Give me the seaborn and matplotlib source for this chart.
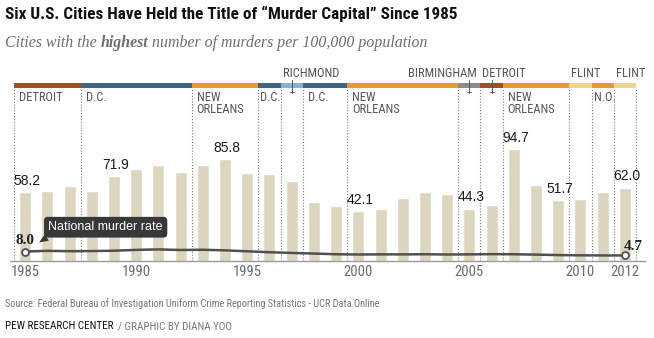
import matplotlib
matplotlib.use("Agg")
import matplotlib.pyplot as plt
from matplotlib import font_manager as fm
from matplotlib.patches import Rectangle
import seaborn as sns
import pandas as pd

# ---------------- data ----------------
years = list(range(1985, 2013))
capital_city = ["DETROIT"] * 3 + ["D.C."] * 5 + ["NEW ORLEANS"] * 3 + ["D.C.", "RICHMOND"] + \
    ["D.C."] * 2 + ["NEW ORLEANS"] * 5 + ["BIRMINGHAM", "DETROIT"] + ["NEW ORLEANS"] * 3 + \
    ["FLINT", "NEW ORLEANS", "FLINT"]
city_rate = [58.2, 59.2, 63.4, 59.5, 71.9, 78.0, 81.0, 75.5, 80.8, 85.8,
             74.5, 73.5, 67.5, 49.8, 46.4, 42.1, 43.9, 53.2, 58.1, 56.3,
             44.3, 47.6, 94.7, 64.0, 51.7, 52.4, 58.2, 62.0]
national_rate = [8.0, 8.6, 8.3, 8.4, 8.7, 9.4, 9.8, 9.3, 9.5, 9.0,
                 8.2, 7.4, 6.8, 6.3, 5.7, 5.5, 5.6, 5.6, 5.7, 5.5,
                 5.6, 5.8, 5.7, 5.4, 5.0, 4.8, 4.7, 4.7]
labeled_years = [1985, 1989, 1994, 2000, 2005, 2007, 2009, 2012]
tick_years = [1985, 1990, 1995, 2000, 2005, 2010, 2012]

# segment label text (below band) / (above band)
below_text = {"DETROIT": "DETROIT", "D.C.": "D.C.", "NEW ORLEANS": "NEW\nORLEANS"}
short_below = {"NEW ORLEANS": "N.O."}
above_cities = {"RICHMOND", "BIRMINGHAM", "FLINT"}
city_colors = {"DETROIT": "#9c4f27", "D.C.": "#3e6583", "NEW ORLEANS": "#e99a2c",
               "RICHMOND": "#8cb0d0", "BIRMINGHAM": "#8b8b8b", "FLINT": "#efd690"}

df = pd.DataFrame({"year": years, "rate": city_rate, "national": national_rate})

# ---------------- fonts ----------------
names = {f.name for f in fm.fontManager.ttflist}
def pick(*cands):
    for c in cands:
        if c in names:
            return c
    return "DejaVu Sans"
COND = pick("Liberation Sans Narrow", "Roboto Condensed", "DejaVu Sans")
SERIF = pick("Liberation Serif", "DejaVu Serif")
SANS = pick("Liberation Sans", "DejaVu Sans")

sns.set_style("white")
plt.rcParams["font.family"] = [SANS, "DejaVu Sans"]

W, H = 654, 338
fig = plt.figure(figsize=(W / 100, H / 100), dpi=100)
BASE = 261.0
TOP = 60.0
PX_PER_UNIT = 1.183
ax = fig.add_axes([10 / W, (H - BASE) / H, 635 / W, (BASE - TOP) / H])

def ypx(p):  # pixel row -> data value
    return (BASE - p) / PX_PER_UNIT

x0 = 1984.5 - 4 / 22.214
x1 = 1984.5 + (645 - 14) / 22.214

sns.barplot(data=df, x="year", y="rate", native_scale=True, width=0.54,
            color="#dcd6c0", saturation=1, ax=ax)
sns.lineplot(data=df, x="year", y="national", color="#505050", lw=1.8, ax=ax)
ax.plot([years[0], years[-1]], [national_rate[0], national_rate[-1]], "o", ms=5,
        mfc="white", mec="#505050", mew=1.3, zorder=5)

ax.set_xlim(x0, x1)
ax.set_ylim(0, ypx(TOP))
ax.set_xlabel("")
ax.set_ylabel("")
ax.set_yticks([])
ax.set_xticks(tick_years)
ax.set_xticklabels([str(y) for y in tick_years], fontfamily=COND, fontsize=10.5, color="#6b6b6b")
ax.tick_params(axis="x", length=0, pad=3)
for s in ["top", "left", "right"]:
    ax.spines[s].set_visible(False)
ax.spines["bottom"].set_color("#9a9a9a")
ax.spines["bottom"].set_linewidth(1)
ax.patch.set_alpha(0)

# value labels
for y, v in zip(years, city_rate):
    if y in labeled_years:
        ax.annotate(f"{v:.1f}", (y, v), xytext=(1.5, 3), textcoords="offset points",
                    ha="center", va="bottom", fontsize=10, color="#1a1a1a")

# segments of the "murder capital" band
segs = []
start = 0
for i in range(1, len(years) + 1):
    if i == len(years) or capital_city[i] != capital_city[start]:
        segs.append((capital_city[start], years[start] - 0.5, years[i - 1] + 0.5))
        start = i

band_lo, band_hi = ypx(88), ypx(83)
bounds = sorted({s[1] for s in segs} | {s[2] for s in segs})
ax.vlines(bounds, 0, band_lo, colors="#7a7a7a", linestyles=(0, (1, 1.6)), lw=0.8, zorder=1)

px_year = 22.214
for city, a, b in segs:
    ax.add_patch(Rectangle((a, band_lo), b - a, band_hi - band_lo, color=city_colors[city],
                           lw=0, zorder=3, clip_on=False))
    one = (b - a) < 1.5
    if city in above_cities or (city == "DETROIT" and one):
        if city == "BIRMINGHAM":
            ax.text(b - 4 / px_year, ypx(77), city, ha="right", va="baseline",
                    fontfamily=COND, fontsize=9, color="#555555")
        else:
            ax.text(a + 2 / px_year, ypx(77), city, ha="left", va="baseline",
                    fontfamily=COND, fontsize=9, color="#555555")
        if one and city != "FLINT":
            c = (a + b) / 2
            ax.plot([c, c], [ypx(80), ypx(93)], color="#555555", lw=0.7, zorder=4, clip_on=False)
            ax.plot([c - 2 / px_year, c + 2 / px_year], [ypx(92)] * 2, color="#555555", lw=0.7,
                    zorder=4, clip_on=False)
    else:
        txt = short_below.get(city, below_text[city]) if one else below_text[city]
        off = 2 / px_year if one else 5 / px_year
        ax.text(a + off, ypx(91), txt, ha="left", va="top", fontfamily=COND,
                fontsize=9, color="#555555", linespacing=0.9)

# national rate annotations
ax.annotate(f"{national_rate[0]:.1f}", (years[0], national_rate[0]), xytext=(0, 3),
            textcoords="offset points", ha="center", va="bottom", fontsize=11,
            fontweight="bold", fontfamily=SERIF, color="#222222")
ax.annotate(f"{national_rate[-1]:.1f}", (years[-1], national_rate[-1]), xytext=(6, 2),
            textcoords="offset points", ha="center", va="bottom", fontsize=11,
            fontweight="bold", fontfamily=SERIF, color="#222222")
ax.annotate("National murder rate", (years[0], national_rate[0]), xytext=(58, 17.5),
            textcoords="offset points", ha="center", va="center", fontsize=9,
            color="white", zorder=6,
            bbox=dict(boxstyle="round,pad=0.35,rounding_size=0.3", fc="#383838", ec="none"),
            arrowprops=dict(arrowstyle="wedge,tail_width=0.6,shrink_factor=0.5", fc="#383838",
                            ec="none", relpos=(0.06, 0.1), shrinkA=0, shrinkB=12))

# ---------------- titles & footer ----------------
def fx(p):
    return p / W
def fy(p):
    return 1 - p / H

fig.text(fx(5), fy(14), "Six U.S. Cities Have Held the Title of \u201cMurder Capital\u201d Since 1985",
         fontfamily=COND, fontweight="bold", fontsize=12.3, color="#111111", va="center")

renderer = fig.canvas.get_renderer()
xpos = fx(5)
for part, wt in [("Cities with the ", "normal"), ("highest", "bold"),
                 (" number of murders per 100,000 population", "normal")]:
    t = fig.text(xpos, fy(43), part, fontfamily=SERIF, fontstyle="italic", fontweight=wt,
                 fontsize=11.4, color="#6e6e6e", va="center")
    bb = t.get_window_extent(renderer=renderer)
    xpos += bb.width / W

fig.text(fx(5), fy(304), "Source: Federal Bureau of Investigation Uniform Crime Reporting Statistics - UCR Data Online",
         fontfamily=COND, fontsize=7.4, color="#777777", va="center")
t = fig.text(fx(5), fy(326), "PEW RESEARCH CENTER", fontfamily=COND, fontsize=7.9,
             color="#111111", va="center")
bb = t.get_window_extent(renderer=renderer)
fig.text(fx(5) + bb.width / W + fx(4), fy(326), "/ GRAPHIC BY DIANA YOO", fontfamily=COND,
         fontsize=7.9, color="#777777", va="center")

fig.savefig("out.png", dpi=100, facecolor="white")
